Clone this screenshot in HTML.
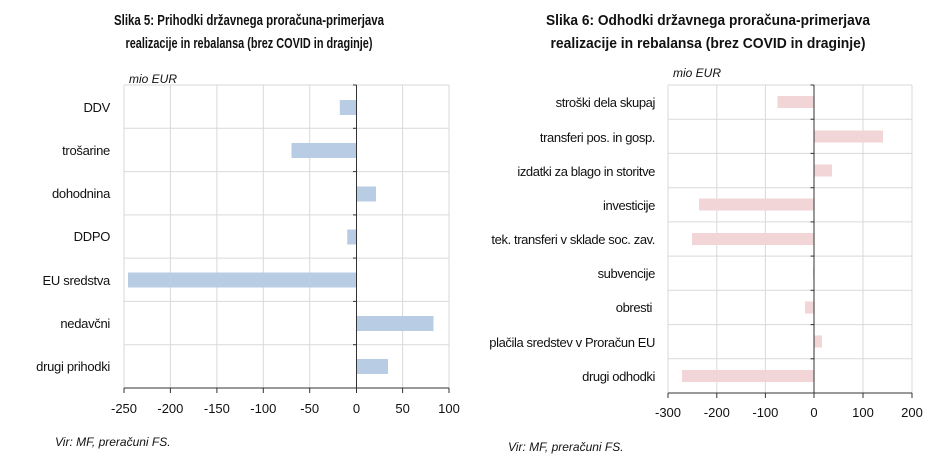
<!DOCTYPE html>
<html><head><meta charset="utf-8"><style>
html,body{margin:0;padding:0;background:#fff;}
svg{display:block;font-family:"Liberation Sans",sans-serif;}
</style></head><body>
<svg width="940" height="462" viewBox="0 0 940 462">
<g font-weight="bold" font-size="15" fill="#111" text-anchor="middle">
<text x="249" y="25" textLength="270" lengthAdjust="spacingAndGlyphs">Slika 5: Prihodki državnega proračuna-primerjava</text>
<text x="249" y="48" textLength="247" lengthAdjust="spacingAndGlyphs">realizacije in rebalansa (brez COVID in draginje)</text>
<text x="708" y="25" textLength="324" lengthAdjust="spacingAndGlyphs">Slika 6: Odhodki državnega proračuna-primerjava</text>
<text x="708" y="48" textLength="315" lengthAdjust="spacingAndGlyphs">realizacije in rebalansa (brez COVID in draginje)</text>
</g>
<!-- LEFT CHART -->
<g stroke="#d9d9d9" stroke-width="1">
<line x1="124" y1="85" x2="124" y2="388"/><line x1="170.4" y1="85" x2="170.4" y2="388"/><line x1="216.9" y1="85" x2="216.9" y2="388"/><line x1="263.3" y1="85" x2="263.3" y2="388"/><line x1="309.7" y1="85" x2="309.7" y2="388"/><line x1="402.6" y1="85" x2="402.6" y2="388"/><line x1="449" y1="85" x2="449" y2="388"/>
<line x1="124" y1="85" x2="449" y2="85"/><line x1="124" y1="128.3" x2="449" y2="128.3"/><line x1="124" y1="171.6" x2="449" y2="171.6"/><line x1="124" y1="214.9" x2="449" y2="214.9"/><line x1="124" y1="258.1" x2="449" y2="258.1"/><line x1="124" y1="301.4" x2="449" y2="301.4"/><line x1="124" y1="344.7" x2="449" y2="344.7"/>
</g>
<g fill="#b8cce4">
<rect x="339.8" y="100" width="16.7" height="15"/>
<rect x="291.5" y="143" width="65" height="15"/>
<rect x="356.5" y="186.5" width="19.5" height="15"/>
<rect x="347.2" y="229.5" width="9.3" height="15"/>
<rect x="128" y="272.5" width="228.5" height="15"/>
<rect x="356.5" y="316" width="77" height="15"/>
<rect x="356.5" y="359" width="31.5" height="15"/>
</g>
<g stroke="#333" stroke-width="1">
<line x1="356.5" y1="85" x2="356.5" y2="388"/>
<line x1="124" y1="388" x2="449" y2="388"/>
<line x1="124" y1="388" x2="124" y2="393"/><line x1="170.4" y1="388" x2="170.4" y2="393"/><line x1="216.9" y1="388" x2="216.9" y2="393"/><line x1="263.3" y1="388" x2="263.3" y2="393"/><line x1="309.7" y1="388" x2="309.7" y2="393"/><line x1="356.5" y1="388" x2="356.5" y2="393"/><line x1="402.6" y1="388" x2="402.6" y2="393"/><line x1="449" y1="388" x2="449" y2="393"/>
<line x1="353" y1="85" x2="356.5" y2="85"/><line x1="353" y1="128.3" x2="356.5" y2="128.3"/><line x1="353" y1="171.6" x2="356.5" y2="171.6"/><line x1="353" y1="214.9" x2="356.5" y2="214.9"/><line x1="353" y1="258.1" x2="356.5" y2="258.1"/><line x1="353" y1="301.4" x2="356.5" y2="301.4"/><line x1="353" y1="344.7" x2="356.5" y2="344.7"/>
</g>
<g font-size="13" fill="#111" text-anchor="end" letter-spacing="-0.3">
<text x="110" y="112">DDV</text>
<text x="110" y="155">trošarine</text>
<text x="110" y="198">dohodnina</text>
<text x="110" y="241">DDPO</text>
<text x="110" y="285">EU sredstva</text>
<text x="110" y="328">nedavčni</text>
<text x="110" y="371">drugi prihodki</text>
</g>
<g font-size="13" fill="#111" text-anchor="middle">
<text x="124" y="413">-250</text><text x="170.4" y="413">-200</text><text x="216.9" y="413">-150</text><text x="263.3" y="413">-100</text><text x="309.7" y="413">-50</text><text x="356.5" y="413">0</text><text x="402.6" y="413">50</text><text x="449" y="413">100</text>
</g>
<text x="129" y="83" font-size="12" font-style="italic" fill="#111">mio EUR</text>
<text x="55" y="446" font-size="12" font-style="italic" fill="#111">Vir: MF, preračuni FS.</text>
<!-- RIGHT CHART -->
<g stroke="#d9d9d9" stroke-width="1">
<line x1="668" y1="85" x2="668" y2="393"/><line x1="716.8" y1="85" x2="716.8" y2="393"/><line x1="765.4" y1="85" x2="765.4" y2="393"/><line x1="863" y1="85" x2="863" y2="393"/><line x1="912" y1="85" x2="912" y2="393"/>
<line x1="668" y1="85" x2="912" y2="85"/><line x1="668" y1="119.2" x2="912" y2="119.2"/><line x1="668" y1="153.4" x2="912" y2="153.4"/><line x1="668" y1="187.7" x2="912" y2="187.7"/><line x1="668" y1="221.9" x2="912" y2="221.9"/><line x1="668" y1="256.1" x2="912" y2="256.1"/><line x1="668" y1="290.3" x2="912" y2="290.3"/><line x1="668" y1="324.6" x2="912" y2="324.6"/><line x1="668" y1="358.8" x2="912" y2="358.8"/>
</g>
<g fill="#f2d5d7">
<rect x="777.5" y="96" width="36.5" height="12"/>
<rect x="814" y="130.5" width="69" height="12"/>
<rect x="814" y="164.5" width="18" height="12"/>
<rect x="699" y="198.5" width="115" height="12"/>
<rect x="692" y="233" width="122" height="12"/>
<rect x="813" y="267" width="1" height="12"/>
<rect x="805" y="301.5" width="9" height="12"/>
<rect x="814" y="335.5" width="8" height="12"/>
<rect x="682" y="370" width="132" height="12"/>
</g>
<g stroke="#333" stroke-width="1">
<line x1="814" y1="85" x2="814" y2="393"/>
<line x1="668" y1="393" x2="912" y2="393"/>
<line x1="668" y1="393" x2="668" y2="398"/><line x1="716.8" y1="393" x2="716.8" y2="398"/><line x1="765.4" y1="393" x2="765.4" y2="398"/><line x1="814" y1="393" x2="814" y2="398"/><line x1="863" y1="393" x2="863" y2="398"/><line x1="912" y1="393" x2="912" y2="398"/>
<line x1="810.5" y1="85" x2="814" y2="85"/><line x1="810.5" y1="119.2" x2="814" y2="119.2"/><line x1="810.5" y1="153.4" x2="814" y2="153.4"/><line x1="810.5" y1="187.7" x2="814" y2="187.7"/><line x1="810.5" y1="221.9" x2="814" y2="221.9"/><line x1="810.5" y1="256.1" x2="814" y2="256.1"/><line x1="810.5" y1="290.3" x2="814" y2="290.3"/><line x1="810.5" y1="324.6" x2="814" y2="324.6"/><line x1="810.5" y1="358.8" x2="814" y2="358.8"/>
</g>
<g font-size="13" fill="#111" text-anchor="end" letter-spacing="-0.4">
<text x="655" y="107">stroški dela skupaj</text>
<text x="655" y="142">transferi pos. in gosp.</text>
<text x="655" y="176">izdatki za blago in storitve</text>
<text x="655" y="210">investicije</text>
<text x="655" y="244">tek. transferi v sklade soc. zav.</text>
<text x="655" y="278">subvencije</text>
<text x="652" y="312">obresti</text>
<text x="655" y="347">plačila sredstev v Proračun EU</text>
<text x="655" y="381">drugi odhodki</text>
</g>
<g font-size="13" fill="#111" text-anchor="middle">
<text x="668" y="417">-300</text><text x="716.8" y="417">-200</text><text x="765.4" y="417">-100</text><text x="814" y="417">0</text><text x="863" y="417">100</text><text x="912" y="417">200</text>
</g>
<text x="673" y="77" font-size="12" font-style="italic" fill="#111">mio EUR</text>
<text x="508" y="451" font-size="12" font-style="italic" fill="#111">Vir: MF, preračuni FS.</text>
</svg>
</body></html>
